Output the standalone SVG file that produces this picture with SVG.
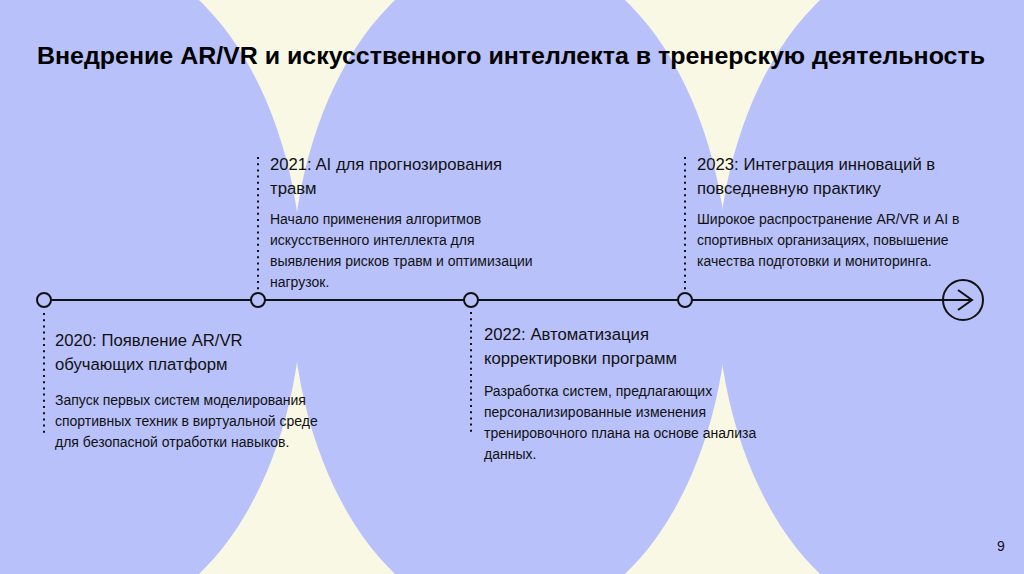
<svg xmlns="http://www.w3.org/2000/svg" width="1024" height="574" viewBox="0 0 1024 574">
<style>
.bg{fill:#F9F8E4}
.blob{fill:#B9C1FA}
.title{font-family:"Liberation Sans",Arial,sans-serif;font-weight:bold;font-size:24px;fill:#000}
.head{font-family:"Liberation Sans",Arial,sans-serif;font-size:16.7px;fill:#111}
.desc{font-family:"Liberation Sans",Arial,sans-serif;font-size:14px;fill:#111}
.pg{font-family:"Liberation Sans",Arial,sans-serif;font-size:14px;fill:#111}
.line{stroke:#111;stroke-width:2;fill:none}
.dot{stroke:#111;stroke-width:2;stroke-dasharray:2 4.2;fill:none}
.node{fill:#B9C1FA;stroke:#111;stroke-width:2}
</style>
<rect class="bg" x="0" y="0" width="1024" height="574"/>
<ellipse class="blob" cx="84" cy="287" rx="218.5" ry="337.5"/>
<ellipse class="blob" cx="510" cy="287" rx="218.5" ry="337.5"/>
<ellipse class="blob" cx="935" cy="287" rx="218.5" ry="337.5"/>
<text class="title" x="37" y="64" textLength="948" lengthAdjust="spacingAndGlyphs">Внедрение AR/VR и искусственного интеллекта в тренерскую деятельность</text>
<g id="connectors">
<line class="line" x1="51" y1="300" x2="972" y2="300"/>
<line class="dot" x1="44" y1="313" x2="44" y2="434"/>
<line class="dot" x1="258" y1="157" x2="258" y2="290"/>
<line class="dot" x1="471" y1="312" x2="471" y2="434"/>
<line class="dot" x1="685" y1="157" x2="685" y2="290"/>
</g>
<g id="n2020">
<circle class="node" cx="44" cy="300" r="7"/>
<text class="head" x="55" y="346">2020: Появление AR/VR</text>
<text class="head" x="55" y="370">обучающих платформ</text>
<text class="desc" x="55" y="405">Запуск первых систем моделирования</text>
<text class="desc" x="55" y="426">спортивных техник в виртуальной среде</text>
<text class="desc" x="55" y="447">для безопасной отработки навыков.</text>
</g>
<g id="n2021">
<circle class="node" cx="258" cy="300" r="7"/>
<text class="head" x="270" y="170">2021: AI для прогнозирования</text>
<text class="head" x="270" y="194">травм</text>
<text class="desc" x="270" y="224">Начало применения алгоритмов</text>
<text class="desc" x="270" y="245">искусственного интеллекта для</text>
<text class="desc" x="270" y="266">выявления рисков травм и оптимизации</text>
<text class="desc" x="270" y="287">нагрузок.</text>
</g>
<g id="n2022">
<circle class="node" cx="471" cy="300" r="7"/>
<text class="head" x="484" y="340">2022: Автоматизация</text>
<text class="head" x="484" y="364">корректировки программ</text>
<text class="desc" x="484" y="396">Разработка систем, предлагающих</text>
<text class="desc" x="484" y="417">персонализированные изменения</text>
<text class="desc" x="484" y="438">тренировочного плана на основе анализа</text>
<text class="desc" x="484" y="459">данных.</text>
</g>
<g id="n2023">
<circle class="node" cx="685" cy="300" r="7"/>
<text class="head" x="697" y="170">2023: Интеграция инноваций в</text>
<text class="head" x="697" y="194">повседневную практику</text>
<text class="desc" x="697" y="224">Широкое распространение AR/VR и AI в</text>
<text class="desc" x="697" y="245">спортивных организациях, повышение</text>
<text class="desc" x="697" y="266">качества подготовки и мониторинга.</text>
</g>
<g id="end">
<circle cx="963" cy="300" r="20" fill="none" stroke="#111" stroke-width="2"/>
<polyline class="line" points="958,290 972,300 958,310"/>
</g>
<text class="pg" x="997" y="551">9</text>
</svg>
